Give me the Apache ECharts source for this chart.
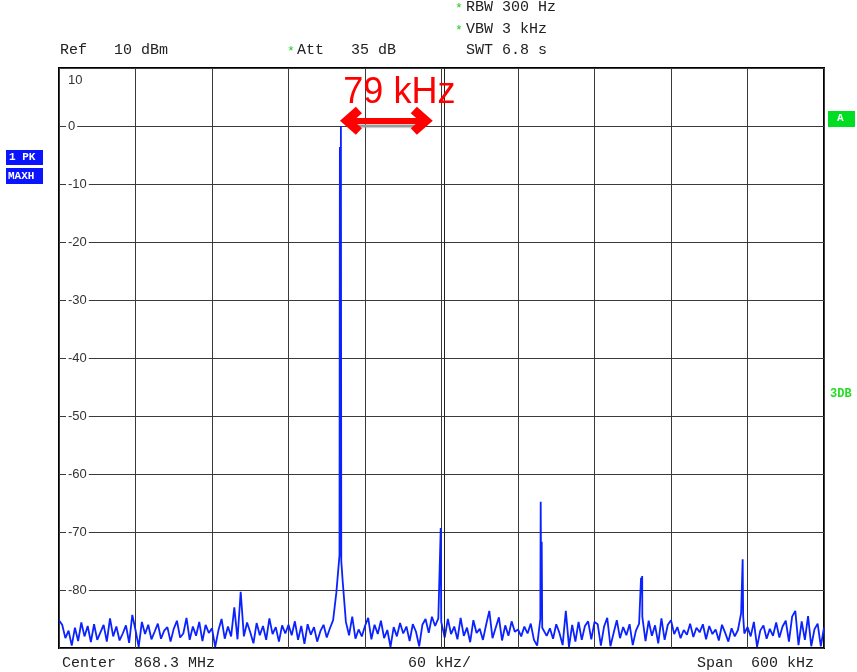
<!DOCTYPE html>
<html>
<head>
<meta charset="utf-8">
<style>html,body{margin:0;padding:0;background:#fff}#c{width:857px;height:672px}</style>
<script src="https://cdn.jsdelivr.net/npm/echarts@6/dist/echarts.min.js"></script>
</head>
<body>
<div id="c"></div>
<script>
// Frequency offset from center (kHz), noise trace sampled every 2.5 kHz from -300 to +300
const noiseStartKHz = -300;
const noiseStepKHz = 2.5;
const noiseDBm = [
  // -300 .. -242.5
  -85.2, -86.0, -88.3, -87.0, -89.6, -86.5, -88.8, -85.6, -88.0, -86.2, -89.0, -85.9, -88.6, -87.3, -86.0, -88.9, -84.9, -88.0, -86.3, -88.7, -87.5, -86.1, -89.1, -84.3,
  // -240 .. -182.5
  -86.9, -89.8, -85.5, -87.6, -86.0, -88.5, -87.2, -85.8, -88.4, -87.0, -86.4, -88.9, -86.7, -85.3, -88.2, -87.5, -84.8, -88.6, -86.3, -87.9, -85.5, -88.8, -86.0, -87.4,
  // -180 .. -122.5
  -86.6, -89.8, -87.0, -85.0, -88.4, -86.3, -88.0, -83.0, -88.5, -80.3, -88.0, -85.6, -87.3, -89.2, -85.7, -87.8, -86.2, -88.6, -84.9, -87.6, -86.4, -88.9, -86.1, -87.5,
  // -120 .. -62.5
  -86.0, -87.8, -85.4, -88.6, -86.2, -89.3, -85.9, -87.7, -86.4, -88.9, -87.1, -86.0, -88.2, -86.6, -85.2, -80.5, -74.0, -78.5, -85.5, -87.8, -84.6, -88.4, -86.8, -88.0,
  // -60 .. -2.5
  -86.2, -84.8, -88.5, -86.0, -87.6, -85.3, -88.3, -86.9, -89.8, -86.4, -88.0, -85.7, -87.5, -86.3, -88.8, -85.9, -87.2, -89.7, -86.0, -85.0, -87.4, -84.6, -86.2, -84.9,
  // 0 .. 57.5
  -85.6, -88.2, -85.0, -87.6, -86.3, -88.5, -84.8, -87.9, -86.5, -89.0, -85.2, -87.4, -86.7, -88.6, -86.0, -83.6, -88.3, -86.5, -84.7, -88.7, -86.1, -87.9, -85.4, -87.2,
  // 60 .. 117.5
  -86.8, -88.0, -86.3, -87.5, -85.8, -88.6, -89.6, -85.0, -86.5, -87.9, -86.6, -88.4, -85.9, -87.4, -89.5, -83.6, -89.8, -86.0, -88.9, -85.5, -88.6, -86.2, -85.4, -88.5,
  // 120 .. 177.5
  -85.5, -85.9, -89.6, -86.3, -84.8, -89.7, -87.4, -85.2, -88.3, -86.4, -87.8, -85.9, -89.5, -87.0, -85.8, -84.6, -88.8, -85.3, -87.9, -86.1, -89.2, -84.9, -88.6, -86.0,
  // 180 .. 237.5
  -85.2, -87.6, -86.4, -88.3, -86.9, -87.7, -85.8, -88.1, -86.5, -87.3, -85.9, -88.5, -86.2, -87.6, -86.8, -88.7, -86.0, -87.4, -88.9, -86.6, -88.0, -86.9, -84.0, -87.5,
  // 240 .. 300
  -86.4, -88.0, -85.5, -89.8, -87.0, -86.1, -88.4, -86.7, -87.9, -85.6, -88.2, -86.3, -85.3, -88.9, -84.6, -83.6, -89.5, -85.4, -88.6, -84.5, -89.7, -86.8, -85.8, -89.7, -86.5
];
// Narrow spectral lines: [offset kHz, level dBm]
const carrierPeak = [[-79.7, -3.6], [-79.4, -60.0], [-78.9, 0.0], [-78.6, -75.0]];
const centerSpur = [[-0.6, -69.3], [-0.2, -85.5]];
const spur78 = [[77.8, -64.8], [78.2, -82.0], [78.6, -71.7], [79.0, -86.5]];
const spur157 = [[156.2, -86.0], [156.5, -77.9], [157.0, -78.5], [157.4, -77.6], [157.8, -84.5]];
const spur236 = [[236.2, -74.7], [236.6, -84.5]];

const yTicks = [10, 0, -10, -20, -30, -40, -50, -60, -70, -80];
const arrowSpan = [[-71.0, 0.9], [-15.5, 0.9]];
const arrowText = '79 kHz';
const centerLine2KHz = 1.9;

const trace = noiseDBm.map((v, i) => [noiseStartKHz + i * noiseStepKHz, v])
  .concat(carrierPeak, centerSpur, spur78, spur157, spur236)
  .sort((a, b) => a[0] - b[0]);

const mono = '"Courier New","Liberation Mono",monospace';
const sans = 'Liberation Sans, Arial, sans-serif';
const chevron = 'path://M0,13 L13,0 L26,13 L20,18 L13,11 L6,18 Z';

const chart = echarts.init(document.getElementById('c'), null, {renderer: 'canvas'});
chart.setOption({
  animation: false,
  backgroundColor: '#fff',
  grid: {left: 59, right: 33, top: 68, bottom: 24, show: true, borderColor: '#000', borderWidth: 2, backgroundColor: 'transparent'},
  xAxis: {
    type: 'value', min: -300, max: 300, interval: 60,
    axisLine: {show: false}, axisTick: {show: false}, axisLabel: {show: false},
    splitLine: {show: true, lineStyle: {color: '#3a3a3a', width: 1}}
  },
  yAxis: {
    type: 'value', min: -90, max: 10, interval: 10,
    axisLine: {show: false}, axisTick: {show: false},
    splitLine: {show: true, lineStyle: {color: '#3a3a3a', width: 1}},
    axisLabel: {
      inside: true, margin: 7, color: '#333', fontFamily: sans, fontSize: 13,
      formatter: function (v) {
        if (yTicks.indexOf(v) < 0) return '';
        if (v === 10) return '{t|' + v + '}';
        return '{n|' + (v < 0 ? '-' + Math.abs(v) : v) + '}';
      },
      rich: {
        n: {backgroundColor: '#fff', padding: [0, 2, 0, 2], color: '#333', fontSize: 13, fontFamily: sans},
        t: {padding: [24, 0, 0, 2], color: '#333', fontSize: 13, fontFamily: sans}
      }
    }
  },
  series: [{
    type: 'line', data: [], z: 2,
    markLine: {
      silent: true, animation: false, symbol: ['none', 'none'],
      lineStyle: {color: '#222', width: 1, type: 'solid'},
      label: {show: false},
      data: [{xAxis: centerLine2KHz}]
    }
  }, {
    type: 'line', data: trace, showSymbol: false, symbol: 'none',
    lineStyle: {color: '#0a22ff', width: 1.8}, z: 3,
    markLine: {
      silent: true, animation: false,
      symbol: [chevron, chevron], symbolSize: [28, 22],
      data: [[{coord: arrowSpan[0]}, {coord: arrowSpan[1]}]],
      lineStyle: {color: '#ff0000', width: 6, type: 'solid', shadowColor: '#9a9a9a', shadowOffsetX: 3, shadowOffsetY: 4, shadowBlur: 1},
      itemStyle: {color: '#ff0000', shadowColor: '#9a9a9a', shadowOffsetX: 3, shadowOffsetY: 4, shadowBlur: 1},
      label: {
        show: true, formatter: arrowText, position: 'insideMiddleTop', distance: 10,
        color: '#ff0000', fontSize: 36, fontFamily: sans, padding: [0, 0, 0, 26]
      }
    }
  }],
  graphic: [
    {type: 'text', left: 455, top: 2, style: {text: '*', fill: '#22cc22', font: '13px ' + mono}},
    {type: 'text', left: 466, top: 0, style: {text: 'RBW 300 Hz', fill: '#222', font: '15px ' + mono}},
    {type: 'text', left: 455, top: 24, style: {text: '*', fill: '#22cc22', font: '13px ' + mono}},
    {type: 'text', left: 466, top: 22, style: {text: 'VBW 3 kHz', fill: '#222', font: '15px ' + mono}},
    {type: 'text', left: 60, top: 43, style: {text: 'Ref   10 dBm', fill: '#222', font: '15px ' + mono}},
    {type: 'text', left: 287, top: 45, style: {text: '*', fill: '#22cc22', font: '13px ' + mono}},
    {type: 'text', left: 297, top: 43, style: {text: 'Att   35 dB', fill: '#222', font: '15px ' + mono}},
    {type: 'text', left: 466, top: 43, style: {text: 'SWT 6.8 s', fill: '#222', font: '15px ' + mono}},
    {type: 'text', left: 62, top: 656, style: {text: 'Center  868.3 MHz', fill: '#222', font: '15px ' + mono}},
    {type: 'text', left: 408, top: 656, style: {text: '60 kHz/', fill: '#222', font: '15px ' + mono}},
    {type: 'text', left: 697, top: 656, style: {text: 'Span  600 kHz', fill: '#222', font: '15px ' + mono}},
    {type: 'rect', left: 6, top: 150, shape: {width: 37, height: 15}, style: {fill: '#0a14ff'}},
    {type: 'text', left: 9, top: 152, style: {text: '1 PK', fill: '#fff', font: 'bold 11px ' + mono}},
    {type: 'rect', left: 6, top: 168, shape: {width: 37, height: 16}, style: {fill: '#0a14ff'}},
    {type: 'text', left: 8, top: 171, style: {text: 'MAXH', fill: '#fff', font: 'bold 11px ' + mono}},
    {type: 'rect', left: 828, top: 111, shape: {width: 27, height: 16}, style: {fill: '#00dd22'}},
    {type: 'text', left: 837, top: 113, style: {text: 'A', fill: '#fff', font: 'bold 11px ' + mono}},
    {type: 'text', left: 830, top: 388, style: {text: '3DB', fill: '#22dd22', font: 'bold 12px ' + mono}}
  ]
});
</script>
</body>
</html>
